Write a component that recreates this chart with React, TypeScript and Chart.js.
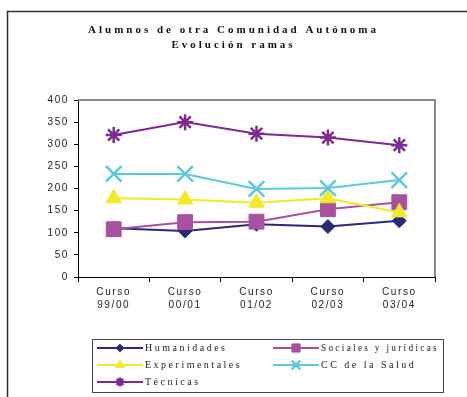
import React, { useEffect, useRef } from 'react';
import { Chart, registerables } from 'chart.js';
import { drawPoint } from 'chart.js/helpers';

Chart.register(...registerables);

const titleLines = ['Alumnos de otra Comunidad Autónoma', 'Evolución ramas'];
const categories = [
  ['Curso', '99/00'],
  ['Curso', '00/01'],
  ['Curso', '01/02'],
  ['Curso', '02/03'],
  ['Curso', '03/04'],
];
const yTicks = [0, 50, 100, 150, 200, 250, 300, 350, 400];
const seriesNames = ['Humanidades', 'Sociales y jurídicas', 'Experimentales', 'CC de la Salud', 'Técnicas'];
const humanidades = [110, 104, 119, 114, 127];
const sociales = [108, 124, 125, 153, 169];
const experimentales = [178, 175, 168, 178, 146];
const ccSalud = [233, 233, 199, 201, 219];
const tecnicas = [321, 350, 324, 315, 298];

const seriesValues = [humanidades, sociales, experimentales, ccSalud, tecnicas];
const seriesColors = ['#2B2A78', '#A8519E', '#F0E92A', '#5DC8DD', '#7D2A8F'];
const seriesStyles = ['rectRot', 'rect', 'triangle', 'crossRot', 'star'];
const seriesRadius = [7, 10.5, 9, 11, 8];
const seriesPointBorder = [1, 1, 1, 2.5, 2.5];

const spacingPlugin = {
  id: 'spacing',
  beforeDraw(chart: any) {
    (chart.ctx as any).letterSpacing = '1.6px';
  },
};

const framePlugin = {
  id: 'frame',
  beforeDatasetsDraw(chart: any) {
    const { ctx, chartArea } = chart;
    ctx.save();
    ctx.strokeStyle = '#8a8a8a';
    ctx.lineWidth = 2;
    ctx.beginPath();
    ctx.moveTo(chartArea.left, chartArea.top);
    ctx.lineTo(chartArea.right, chartArea.top);
    ctx.lineTo(chartArea.right, chartArea.bottom);
    ctx.stroke();
    ctx.restore();
  },
  afterDraw(chart: any) {
    const ctx = chart.ctx;
    ctx.save();
    ctx.strokeStyle = '#333';
    ctx.lineWidth = 1.5;
    ctx.beginPath();
    ctx.moveTo(7.5, 400);
    ctx.lineTo(7.5, 11.5);
    ctx.lineTo(470, 11.5);
    ctx.stroke();
    (ctx as any).letterSpacing = '3px';
    ctx.fillStyle = '#111';
    ctx.font = 'bold 11px "Liberation Serif"';
    ctx.textAlign = 'center';
    ctx.textBaseline = 'middle';
    ctx.fillText(titleLines[0], 233.5, 30);
    ctx.fillText(titleLines[1], 233.5, 45);
    ctx.restore();
  },
};

const legendPlugin = {
  id: 'customLegend',
  afterDraw(chart: any) {
    const ctx = chart.ctx;
    ctx.save();
    ctx.strokeStyle = '#444';
    ctx.lineWidth = 1;
    ctx.strokeRect(92.5, 339.5, 351, 53);
    const cols = [97, 273];
    const rows = [348, 365, 382];
    chart.data.datasets.forEach((ds: any, i: number) => {
      const x = cols[i % 2];
      const y = rows[Math.floor(i / 2)];
      ctx.strokeStyle = ds.borderColor;
      ctx.lineWidth = 2;
      ctx.beginPath();
      ctx.moveTo(x, y);
      ctx.lineTo(x + 46, y);
      ctx.stroke();
      ctx.fillStyle = ds.pointBackgroundColor;
      ctx.strokeStyle = ds.pointBorderColor;
      ctx.lineWidth = ds.pointBorderWidth;
      drawPoint(ctx, {
        pointStyle: ds.pointStyle,
        radius: ds.pointRadius * 0.55,
        borderWidth: ds.pointBorderWidth,
        rotation: 0,
      } as any, x + 23, y);
      (ctx as any).letterSpacing = '2.5px';
      ctx.fillStyle = '#222';
      ctx.font = '10px "Liberation Serif"';
      ctx.textAlign = 'left';
      ctx.textBaseline = 'middle';
      ctx.fillText(ds.label, x + 48, y + 0.5, 118);
    });
    ctx.restore();
  },
};

export default function App() {
  const ref = useRef<HTMLCanvasElement>(null);
  useEffect(() => {
    if (!ref.current) return;
    const chart = new Chart(ref.current, {
      type: 'line',
      data: {
        labels: categories,
        datasets: seriesNames.map((name, i) => ({
          label: name,
          data: seriesValues[i],
          borderColor: seriesColors[i],
          backgroundColor: seriesColors[i],
          pointBackgroundColor: seriesColors[i],
          pointBorderColor: seriesColors[i],
          pointStyle: seriesStyles[i],
          pointRadius: seriesRadius[i],
          pointBorderWidth: seriesPointBorder[i],
          borderWidth: 2,
          tension: 0,
          fill: false,
          order: 5 - i,
        })) as any,
      },
      options: {
        animation: false,
        responsive: false,
        events: [],
        layout: { padding: { top: 100, left: 0, right: 32, bottom: 80 } },
        plugins: {
          legend: { display: false },
          title: { display: false },
          tooltip: { enabled: false },
        },
        scales: {
          x: {
            type: 'category',
            offset: true,
            afterFit: (s: any) => { s.height = 40; },
            grid: {
              display: true,
              drawOnChartArea: false,
              drawTicks: true,
              tickLength: 5,
              color: '#000',
              offset: true,
            },
            border: { display: true, color: '#000', width: 1 },
            ticks: {
              color: '#222',
              font: { family: '"Liberation Sans"', size: 10, lineHeight: 1.35 },
              maxRotation: 0,
              autoSkip: false,
              padding: 3,
            },
          },
          y: {
            min: 0,
            max: 400,
            afterFit: (s: any) => { s.width = 78; },
            afterBuildTicks: (s: any) => { s.ticks = yTicks.map((v) => ({ value: v })); },
            grid: {
              display: true,
              drawOnChartArea: false,
              drawTicks: true,
              tickLength: 4,
              color: '#000',
            },
            border: { display: true, color: '#000', width: 1 },
            ticks: {
              color: '#222',
              font: { family: '"Liberation Sans"', size: 10 },
              padding: 5,
            },
          },
        },
      },
      plugins: [spacingPlugin, framePlugin, legendPlugin],
    } as any);
    return () => chart.destroy();
  }, []);
  return (
    <div style={{ position: 'fixed', left: 0, top: 0, width: 467, height: 397, background: '#fff' }}>
      <canvas ref={ref} width={467} height={397} style={{ display: 'block' }} />
    </div>
  );
}
